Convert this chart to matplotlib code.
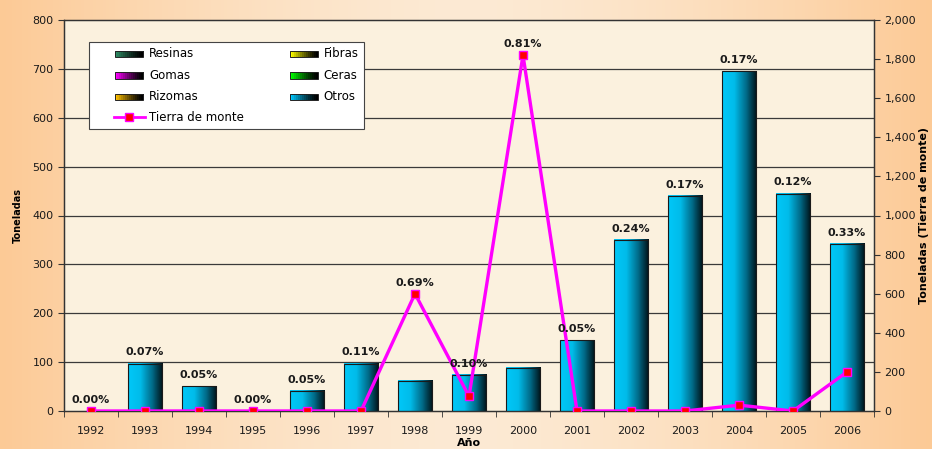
import numpy as np
import matplotlib
matplotlib.use("Agg")
import matplotlib.pyplot as plt
from matplotlib.patches import Rectangle
from matplotlib.lines import Line2D
from matplotlib.legend_handler import HandlerBase
from matplotlib.colors import LinearSegmentedColormap

plt.rcParams['font.family'] = ['DejaVu Sans']

years = ['1992', '1993', '1994', '1995', '1996', '1997', '1998', '1999',
         '2000', '2001', '2002', '2003', '2004', '2005', '2006']
otros = [0, 97, 51, 0, 41, 97, 62, 74, 88, 145, 350, 440, 695, 445, 342]
tierra = [0, 0, 0, 0, 0, 0, 600, 75, 1820, 0, 0, 0, 30, 0, 200]
pct_labels = ['0.00%', '0.07%', '0.05%', '0.00%', '0.05%', '0.11%', '0.69%', '0.10%',
              '0.81%', '0.05%', '0.24%', '0.17%', '0.17%', '0.12%', '0.33%']
left_ticks = [0, 100, 200, 300, 400, 500, 600, 700, 800]
right_ticks = [0, 200, 400, 600, 800, 1000, 1200, 1400, 1600, 1800, 2000]

legend_names = ['Resinas', 'Fibras', 'Gomas', 'Ceras', 'Rizomas', 'Otros']
legend_colors = ['#2E8B64', '#FFFF00', '#FF00FF', '#00FF00', '#FFC000', '#00C8FF']

W, H = 932, 449
fig = plt.figure(figsize=(W / 100, H / 100), dpi=100)

# figure background gradient (peach, lighter in the middle)
bg = fig.add_axes([0, 0, 1, 1], zorder=-10)
bg.set_axis_off()
xs = np.linspace(0, 1, 300)
prof = 1 - (np.abs(xs - 0.5) * 2) ** 1.5
c_edge = np.array([252, 202, 150]) / 255
c_mid = np.array([253, 234, 212]) / 255
row = c_edge[None, :] * (1 - prof[:, None]) + c_mid[None, :] * prof[:, None]
bg.imshow(row[None, :, :], aspect='auto', extent=[0, 1, 0, 1])
bg.set_xlim(0, 1); bg.set_ylim(0, 1)

ax = fig.add_axes([64 / W, 1 - 411 / H, 810 / W, 391 / H])
ax.set_facecolor('#FBF1DE')
ax2 = ax.twinx()

n = len(years)
x = np.arange(n)
bw = 0.63
cmap = LinearSegmentedColormap.from_list('bar', [(0, '#00C8F8'), (0.35, '#00BCEA'),
                                                 (0.7, '#006A88'), (1.0, '#001218')])
grad = np.linspace(0, 1, 64)[None, :]

ax.set_xlim(-0.5, n - 0.5)
ax.set_ylim(0, 800)
for i, v in enumerate(otros):
    if v <= 0:
        continue
    ax.imshow(grad, cmap=cmap, aspect='auto', extent=[i - bw / 2, i + bw / 2, 0, v],
              zorder=3, interpolation='bilinear')
    ax.add_patch(Rectangle((i - bw / 2, 0), bw, v, fill=False, edgecolor='#1A1A1A',
                           linewidth=0.8, zorder=4))
ax.set_xlim(-0.5, n - 0.5)
ax.set_ylim(0, 800)

for t in left_ticks[1:-1]:
    ax.axhline(t, color='#3A3A3A', linewidth=0.9, zorder=1)

ax2.set_ylim(0, 2000)
ax2.plot(x, tierra, color='#FF00FF', linewidth=2.4, marker='s', markersize=5.8,
         markerfacecolor='#FF0000', markeredgecolor='#FF00FF', markeredgewidth=1.0,
         zorder=6)

# percentage labels above the higher of bar and line
for i, lab in enumerate(pct_labels):
    top = max(otros[i], tierra[i] * 800 / 2000)
    ax2.annotate(lab, (i, top * 2000 / 800), xytext=(0, 8), textcoords='offset points',
                 ha='center', va='center', fontsize=8, fontweight='bold',
                 color='#1A1A1A', zorder=8, annotation_clip=False)

ax2.patch.set_visible(False)

ax.set_yticks(left_ticks)
ax.set_yticklabels([str(t) for t in left_ticks])
ax2.set_yticks(right_ticks)
ax2.set_yticklabels([f'{t:,}' for t in right_ticks])
ax.set_xticks(x)
ax.set_xticklabels(years)
ax.set_xticks(np.arange(-0.5, n), minor=True)
ax.tick_params(axis='x', which='major', length=0, labelsize=8, pad=11, colors='#1A1A1A')
ax.tick_params(axis='x', which='minor', length=4, color='#333333', direction='out')
ax.tick_params(axis='y', labelsize=8, length=4, color='#333333', colors='#1A1A1A')
ax2.tick_params(axis='y', labelsize=8, length=4, color='#333333', colors='#1A1A1A')

for a in (ax, ax2):
    for s in a.spines.values():
        s.set_color('#333333')
        s.set_linewidth(0.9)

ax.set_ylabel('Toneladas', fontsize=7, fontweight='bold',
              rotation=90, rotation_mode='anchor', ha='center', va='center')
ax.yaxis.set_label_coords((18 - 64) / 810, 0.5)
ax2.set_ylabel('Toneladas (Tierra de monte)', fontsize=8, fontweight='bold',
               rotation=90, rotation_mode='anchor', ha='center', va='center')
ax2.yaxis.set_label_coords((924 - 64) / 810, 0.5)
ax.set_xlabel('Año', fontsize=8, fontweight='bold', labelpad=1)


class GradHandler(HandlerBase):
    def __init__(self, color, w_px=28):
        super().__init__()
        self.color = color
        self.w_px = w_px

    def create_artists(self, legend, orig_handle, xdescent, ydescent, width, height,
                       fontsize, trans):
        arts = []
        pw = self.w_px * 72 / 100
        x0 = -xdescent + width - pw - 2
        y0 = -ydescent + height * 0.5 - 3.0
        ph = 4.5
        base = np.array(matplotlib.colors.to_rgb(self.color))
        k = 14
        for j in range(k):
            f = j / (k - 1)
            c = base * (1 - f) ** 1.3
            arts.append(Rectangle((x0 + pw * j / k, y0), pw / k + 0.05, ph, facecolor=c,
                                  edgecolor='none', transform=trans))
        arts.append(Rectangle((x0, y0), pw, ph, fill=False, edgecolor='#222222',
                              linewidth=0.7, transform=trans))
        return arts


class LineHandler(HandlerBase):
    def create_artists(self, legend, orig_handle, xdescent, ydescent, width, height,
                       fontsize, trans):
        pw = 31 * 72 / 100
        x0 = -xdescent + width - pw - 1
        yc = -ydescent + height * 0.5
        ln = Line2D([x0, x0 + pw], [yc, yc], color='#FF00FF', linewidth=2.0, transform=trans)
        mk = Line2D([x0 + pw / 2], [yc], marker='s', markersize=5.5, markerfacecolor='#FF0000',
                    markeredgecolor='#FF00FF', markeredgewidth=1.0, linestyle='none',
                    transform=trans)
        return [ln, mk]


handles = []
hmap = {}
for name, col in zip(legend_names, legend_colors):
    h = Rectangle((0, 0), 1, 1, label=name)
    handles.append(h)
    hmap[h] = GradHandler(col)
line_h = Line2D([], [], label='Tierra de monte')
handles.append(line_h)
hmap[line_h] = LineHandler()
order = [handles[0], handles[2], handles[4], handles[6], handles[1], handles[3], handles[5]]
labels = [h.get_label() for h in order]
leg = ax2.legend(order, labels, handler_map=hmap, ncol=2, loc='upper left',
                 bbox_to_anchor=((89 - 64) / 810, 1 - (42 - 20) / 391), borderaxespad=0,
                 fontsize=8.5, frameon=True, fancybox=False, edgecolor='#444444',
                 facecolor='white', framealpha=1, handlelength=4.4, handleheight=0.7,
                 columnspacing=2.1, labelspacing=0.7, handletextpad=0.25, borderpad=0.45)
leg.get_frame().set_linewidth(0.8)
leg.set_zorder(10)

fig.savefig('out.png', dpi=100)
